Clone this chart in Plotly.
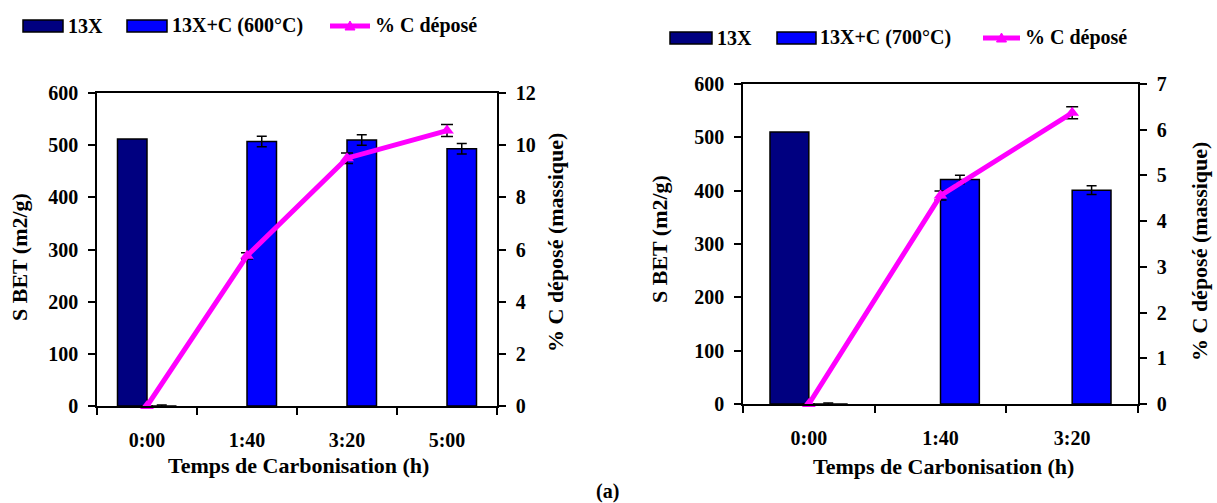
import plotly.graph_objects as go

# ---------------- data ----------------
times_a = ["0:00", "1:40", "3:20", "5:00"]
s13x_a = [512, None, None, None]
s13xc_a = [0, 507, 510, 493]
s13xc_err_a = [2, 10, 10, 10]
pc_a = [0, 5.76, 9.5, 10.56]
pc_err_a = [0, 0.12, 0.2, 0.23]

times_b = ["0:00", "1:40", "3:20"]
s13x_b = [510, None, None]
s13xc_b = [0, 421, 401]
s13xc_err_b = [2, 8, 8]
pc_b = [0, 4.56, 6.37]
pc_err_b = [0, 0.1, 0.13]

labels_a = ["13X", "13X+C (600°C)", "% C déposé"]
labels_b = ["13X", "13X+C (700°C)", "% C déposé"]

# ---------------- styling ----------------
W, H = 1217, 503
FONT = "'Liberation Serif', 'DejaVu Serif', serif"
NAVY = "#000080"
BLUE = "#0000FF"
MAG = "#FF00FF"


def px(x):
    return x / W


def py(y):
    return 1 - y / H


tickfont = dict(family=FONT, size=20, color="black", weight="bold")
titlefont = dict(family=FONT, size=22, color="black", weight="bold")

fig = go.Figure()


def add_panel(times, s13x, s13xc, s13xc_err, pc, pc_err, xa, ya, ya2):
    fig.add_trace(go.Bar(x=times, y=s13x, marker=dict(color=NAVY, line=dict(color="black", width=1.5)),
                         xaxis=xa, yaxis=ya, showlegend=False))
    fig.add_trace(go.Bar(x=times, y=s13xc, marker=dict(color=BLUE, line=dict(color="black", width=1.5)),
                         error_y=dict(type="data", array=s13xc_err, color="black", thickness=1.5, width=5),
                         xaxis=xa, yaxis=ya, showlegend=False))
    fig.add_trace(go.Scatter(x=times, y=pc, mode="lines+markers",
                             line=dict(color=MAG, width=5),
                             marker=dict(symbol="triangle-up", size=12, color=MAG),
                             error_y=dict(type="data", array=pc_err, color="black", thickness=1.5, width=6),
                             cliponaxis=False, xaxis=xa, yaxis=ya2, showlegend=False))


add_panel(times_a, s13x_a, s13xc_a, s13xc_err_a, pc_a, pc_err_a, "x", "y", "y2")
add_panel(times_b, s13x_b, s13xc_b, s13xc_err_b, pc_b, pc_err_b, "x2", "y3", "y4")

common_x = dict(type="category", showline=True, linecolor="black", linewidth=1.5, mirror=True,
                ticks="outside", ticklen=7, tickwidth=1.5, tickcolor="black", tickson="boundaries",
                tickfont=tickfont, ticklabelstandoff=15, showgrid=False, zeroline=False,
                automargin=False)
common_y = dict(showline=True, linecolor="black", linewidth=1.5, ticks="outside", ticklen=7,
                tickwidth=1.5, tickcolor="black", tickfont=tickfont, showgrid=False, zeroline=False,
                ticklabelstandoff=6, automargin=False)

fig.update_layout(
    width=W, height=H,
    margin=dict(l=0, r=0, t=0, b=0, pad=0),
    paper_bgcolor="white", plot_bgcolor="white",
    barmode="group",
    showlegend=False,
    font=dict(family=FONT),
    xaxis=dict(common_x, domain=[px(97), px(497)], anchor="y", range=[-0.5, 3.5]),
    yaxis=dict(common_y, domain=[py(406), py(93)], anchor="x", range=[0, 600], dtick=100),
    yaxis2=dict(common_y, overlaying="y", side="right", anchor="x", range=[0, 12], dtick=2),
    xaxis2=dict(common_x, domain=[px(743), px(1138)], anchor="y3", range=[-0.5, 2.5]),
    yaxis3=dict(common_y, domain=[py(404), py(84)], anchor="x2", range=[0, 600], dtick=100),
    yaxis4=dict(common_y, overlaying="y3", side="right", anchor="x2", range=[0, 7], dtick=1),
)
fig.update_layout(bargap=0.41, bargroupgap=0)

annotations = []
shapes = []


def text(x, y, s, font, angle=0, xanchor="center"):
    annotations.append(dict(x=px(x), y=py(y), xref="paper", yref="paper", text=s, showarrow=False,
                            textangle=angle, font=font, xanchor=xanchor, yanchor="middle"))


# axis titles
text(19, 257, "S BET (m2/g)", titlefont, -90)
text(555, 243, "% C déposé (massique)", titlefont, -90)
text(298, 465, "Temps de Carbonisation (h)", titlefont)
text(660, 239, "S BET (m2/g)", titlefont, -90)
text(1200, 252, "% C déposé (massique)", titlefont, -90)
text(943, 466, "Temps de Carbonisation (h)", titlefont)
text(607, 491, "(a)", dict(family=FONT, size=20, color="black", weight="bold"))

legfont = dict(family=FONT, size=20, color="black", weight="bold")


def legend(y, sw1, t1, sw2, t2, ln, t3, labels):
    for (x0, x1), col in ((sw1, NAVY), (sw2, BLUE)):
        shapes.append(dict(type="rect", xref="paper", yref="paper", x0=px(x0), x1=px(x1),
                           y0=py(y + 6), y1=py(y - 6), fillcolor=col, line=dict(color="black", width=1.5)))
    shapes.append(dict(type="line", xref="paper", yref="paper", x0=px(ln[0]), x1=px(ln[1]),
                       y0=py(y), y1=py(y), line=dict(color=MAG, width=5)))
    cx = (ln[0] + ln[1]) / 2
    shapes.append(dict(type="path", xref="paper", yref="paper",
                       path=f"M {px(cx-5)},{py(y+4)} L {px(cx+5)},{py(y+4)} L {px(cx)},{py(y-5)} Z",
                       fillcolor=MAG, line=dict(color=MAG, width=1)))
    text(t1, y, labels[0], legfont, xanchor="left")
    text(t2, y, labels[1], legfont, xanchor="left")
    text(t3, y, labels[2], legfont, xanchor="left")


legend(26, (23, 63), 66, (127, 167), 170, (330, 370), 373, labels_a)
legend(38, (670, 712), 715, (777, 816), 818, (983, 1020), 1023, labels_b)

fig.update_layout(annotations=annotations, shapes=shapes)
fig.write_html("out.html", config={"displayModeBar": False},
               post_script="document.body.style.margin='0px';")
